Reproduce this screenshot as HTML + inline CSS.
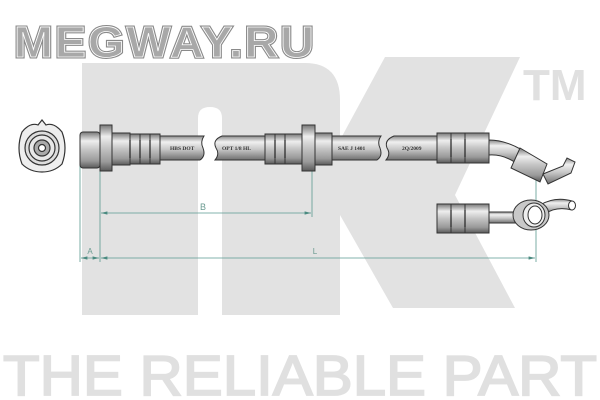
<!DOCTYPE html>
<html><head><meta charset="utf-8"><style>
html,body{margin:0;padding:0;background:#fff;width:600px;height:400px;overflow:hidden}
</style></head><body>
<svg width="600" height="400" viewBox="0 0 600 400" xmlns="http://www.w3.org/2000/svg" font-family="Liberation Sans, sans-serif">
<defs>
<linearGradient id="m" x1="0" y1="0" x2="0" y2="1">
<stop offset="0" stop-color="#777"/><stop offset="0.25" stop-color="#eee"/><stop offset="0.5" stop-color="#c4c4c4"/><stop offset="0.8" stop-color="#9a9a9a"/><stop offset="1" stop-color="#5a5a5a"/>
</linearGradient>
<linearGradient id="h" x1="0" y1="0" x2="0" y2="1">
<stop offset="0" stop-color="#888"/><stop offset="0.25" stop-color="#f0f0f0"/><stop offset="0.55" stop-color="#c8c8c8"/><stop offset="1" stop-color="#707070"/>
</linearGradient>
<marker id="ar" markerWidth="8" markerHeight="6" refX="8" refY="3" orient="auto-start-reverse"><path d="M0,1 L8,3 L0,5 Z" fill="#4a8a80"/></marker>
</defs>
<g fill="#e2e2e2">
<path d="M82,63 H305 Q340,63 340,100 V315 H222 V118 Q222,107 210,107 Q198,107 198,118 V315 H82 Z"/>
<path d="M340,140 L385,57 L520,57 L455,195 L515,308 L393,308 L340,215 Z"/>
</g>
<text x="523" y="100" font-size="44" fill="#e0e0e0" font-weight="bold">TM</text>
<text x="300" y="395" font-size="57" fill="#e0e0e0" stroke="#e0e0e0" stroke-width="1.8" text-anchor="middle" textLength="594" lengthAdjust="spacingAndGlyphs">THE RELIABLE PART</text>
<text x="14" y="57" font-size="44" font-weight="bold" fill="#999" stroke="#8a8a8a" stroke-width="3" textLength="302" lengthAdjust="spacingAndGlyphs" letter-spacing="2">MEGWAY.RU</text>
<text x="14" y="57" font-size="44" font-weight="bold" fill="#a8a8a8" stroke="#fff" stroke-width="0.8" textLength="302" lengthAdjust="spacingAndGlyphs" letter-spacing="2">MEGWAY.RU</text>
<g stroke="#5a9a90" stroke-width="0.8" fill="none">
<line x1="80" y1="165" x2="80" y2="262"/>
<line x1="100" y1="170" x2="100" y2="262"/>
<line x1="312" y1="170" x2="312" y2="217"/>
<line x1="536" y1="160" x2="536" y2="262"/>
<line x1="101" y1="213" x2="311" y2="213" marker-start="url(#ar)" marker-end="url(#ar)"/>
<line x1="81" y1="258" x2="99" y2="258" marker-start="url(#ar)" marker-end="url(#ar)"/>
<line x1="101" y1="258" x2="535" y2="258" marker-start="url(#ar)" marker-end="url(#ar)"/>
</g>
<text x="203" y="210" font-size="9" fill="#6a9a90" text-anchor="middle">B</text>
<text x="90" y="254" font-size="8" fill="#6a9a90" text-anchor="middle">A</text>
<text x="315" y="254" font-size="8" fill="#6a9a90" text-anchor="middle">L</text>
<g stroke="#333" stroke-width="1.2">
<path d="M22,132 Q30,122 38,125 L42,120 L46,125 Q54,122 62,132 Q68,148 62,164 Q54,172 42,172 Q30,172 22,164 Q16,148 22,132 Z" fill="#eee"/>
<circle cx="42" cy="148" r="17" fill="#ddd"/>
<circle cx="42" cy="148" r="13" fill="#e8e8e8"/>
<circle cx="42" cy="148" r="8" fill="#aaa"/>
<circle cx="42" cy="148" r="3.5" fill="#fff"/>
</g>
<g stroke="#333" stroke-width="1">
<rect x="80" y="132" width="20" height="36" rx="3" fill="url(#m)"/>
<rect x="100" y="125" width="12" height="46" fill="url(#m)"/>
<rect x="112" y="133" width="18" height="32" fill="url(#m)"/>
<rect x="130" y="134" width="10" height="30" fill="url(#m)"/>
<rect x="140" y="134" width="10" height="30" fill="url(#m)"/>
<rect x="150" y="134" width="10" height="30" fill="url(#m)"/>
<path d="M160,136 H204 Q200,142 203,148 Q206,156 200,160 H160 Z" fill="url(#h)"/>
<path d="M222,136 H265 V160 H215 Q220,154 216,148 Q212,140 222,136 Z" fill="url(#h)"/>
<rect x="265" y="134" width="10" height="30" fill="url(#m)"/>
<rect x="275" y="134" width="10" height="30" fill="url(#m)"/>
<rect x="285" y="134" width="17" height="30" fill="url(#m)"/>
<rect x="302" y="125" width="13" height="46" fill="url(#m)"/>
<rect x="315" y="133" width="17" height="32" fill="url(#m)"/>
<path d="M332,136 H381 Q377,142 380,148 Q383,156 377,160 H332 Z" fill="url(#h)"/>
<path d="M394,136 H437 V160 H386 Q391,154 387,148 Q384,140 394,136 Z" fill="url(#h)"/>
<rect x="437" y="133" width="14" height="30" fill="url(#m)"/>
<rect x="451" y="133" width="14" height="30" fill="url(#m)"/>
<rect x="465" y="133" width="24" height="30" fill="url(#m)"/>
<path d="M489,140 Q505,140 522,150 L516,163 Q503,154 489,155 Z" fill="url(#h)"/>
<path d="M520,148 L547,164 L540,182 L511,168 Z" fill="url(#m)"/>
<path d="M543,174 L563,166 L567,158 L575,162 L571,173 L548,184 Z" fill="url(#h)"/>
<rect x="437" y="204" width="14" height="29" fill="url(#m)"/>
<rect x="451" y="204" width="14" height="29" fill="url(#m)"/>
<rect x="465" y="204" width="24" height="29" fill="url(#m)"/>
<rect x="489" y="212" width="28" height="11" fill="url(#h)"/>
<path d="M540,205 Q555,196 572,201 L572,210 Q556,206 545,214 Z" fill="url(#h)"/>
<ellipse cx="572" cy="205.5" rx="3.5" ry="4.5" fill="#fff"/>
<ellipse cx="531" cy="215" rx="18" ry="15" fill="#c8c8c8"/>
<ellipse cx="534" cy="215" rx="11" ry="12" fill="#eee"/>
<ellipse cx="535" cy="215" rx="7" ry="9" fill="#fff"/>
</g>
<g stroke="#222" stroke-width="1.2">
<line x1="130" y1="140" x2="130" y2="158"/>
<line x1="140" y1="140" x2="140" y2="158"/>
<line x1="150" y1="140" x2="150" y2="158"/>
<line x1="275" y1="140" x2="275" y2="158"/>
<line x1="285" y1="140" x2="285" y2="158"/>
<line x1="451" y1="139" x2="451" y2="157"/>
<line x1="465" y1="139" x2="465" y2="157"/>
<line x1="451" y1="210" x2="451" y2="227"/>
<line x1="465" y1="210" x2="465" y2="227"/>
</g>
<g font-family="Liberation Serif, serif" font-size="5.5" font-weight="bold" fill="#333">
<text x="170" y="150">HBS DOT</text>
<text x="222" y="150">OPT 1/8 HL</text>
<text x="338" y="150">SAE J 1401</text>
<text x="402" y="150">2Q/2009</text>
</g>
</svg>
</body></html>
